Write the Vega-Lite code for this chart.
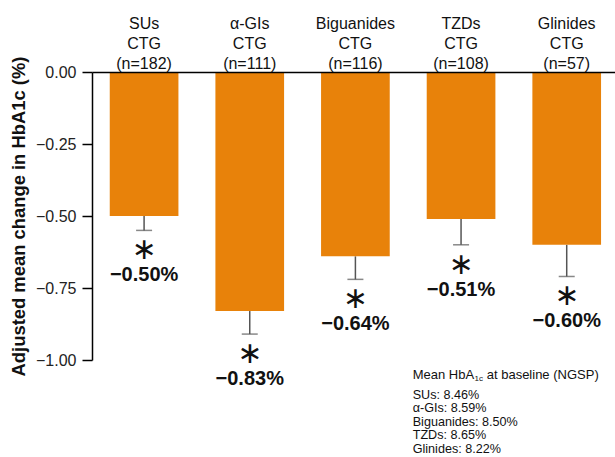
{
  "$schema": "https://vega.github.io/schema/vega-lite/v6.json",
  "width": 523,
  "height": 288,
  "autosize": "none",
  "padding": {"left": 92, "top": 72, "right": 0, "bottom": 97},
  "background": "white",
  "config": {"view": {"stroke": null}, "font": "Liberation Sans"},
  "data": {
    "values": [
      {"drug": "SUs", "arm": "CTG", "n": 182, "change": -0.50, "lower": -0.55},
      {"drug": "α-GIs", "arm": "CTG", "n": 111, "change": -0.83, "lower": -0.91},
      {"drug": "Biguanides", "arm": "CTG", "n": 116, "change": -0.64, "lower": -0.72},
      {"drug": "TZDs", "arm": "CTG", "n": 108, "change": -0.51, "lower": -0.60},
      {"drug": "Glinides", "arm": "CTG", "n": 57, "change": -0.60, "lower": -0.71}
    ]
  },
  "transform": [
    {"calculate": "datum.drug + '|' + datum.arm + '|(n=' + datum.n + ')'", "as": "group"},
    {"calculate": "format(datum.change, '.2f') + '%'", "as": "changeLabel"}
  ],
  "encoding": {
    "x": {
      "field": "group",
      "type": "nominal",
      "sort": null,
      "scale": {"paddingInner": 0.35, "paddingOuter": 0.15, "align": 0.56},
      "axis": {
        "orient": "top",
        "zindex": 1,
        "title": null,
        "ticks": false,
        "labelAngle": 0,
        "labelExpr": "reverse(split(datum.label, '|'))",
        "labelFontSize": 16,
        "labelLineHeight": -20,
        "labelPadding": 1,
        "labelColor": "#111",
        "domainColor": "#000",
        "domainWidth": 1.5
      }
    }
  },
  "layer": [
    {
      "mark": {"type": "rule", "color": "#555", "strokeWidth": 1.5},
      "encoding": {
        "y": {"field": "lower", "type": "quantitative"},
        "y2": {"field": "change"}
      }
    },
    {
      "mark": {"type": "tick", "orient": "horizontal", "size": 16, "thickness": 1.5, "color": "#555"},
      "encoding": {
        "y": {"field": "lower", "type": "quantitative"}
      }
    },
    {
      "mark": {"type": "bar", "color": "#E8820A"},
      "encoding": {
        "y": {
          "field": "change",
          "type": "quantitative",
          "scale": {"domain": [-1, 0], "nice": false},
          "axis": {
            "values": [0, -0.25, -0.5, -0.75, -1],
            "format": ".2f",
            "title": "Adjusted mean change in HbA1c (%)",
            "titleFontSize": 18.4,
            "titleFontWeight": "bold",
            "titleColor": "#111",
            "titlePadding": 7,
            "labelFontSize": 16,
            "labelColor": "#222",
            "labelPadding": 6,
            "tickSize": 10,
            "tickWidth": 1.5,
            "tickColor": "#000",
            "domainColor": "#000",
            "domainWidth": 1.5,
            "grid": false
          }
        }
      }
    },
    {
      "mark": {"type": "text", "text": "∗", "font": "DejaVu Sans", "fontSize": 30, "baseline": "middle", "dy": 20, "color": "#111"},
      "encoding": {
        "y": {"field": "lower", "type": "quantitative"}
      }
    },
    {
      "mark": {"type": "text", "fontSize": 20, "fontWeight": "bold", "baseline": "middle", "dy": 45, "color": "#111"},
      "encoding": {
        "y": {"field": "lower", "type": "quantitative"},
        "text": {"field": "changeLabel"}
      }
    },
    {
      "data": {"values": [{"note": "baseline"}]},
      "layer": [
        {
          "mark": {"type": "text", "text": "Mean HbA", "fontSize": 13, "align": "left", "baseline": "middle", "dx": -14, "dy": 15, "color": "#111"},
          "encoding": {"x": {"datum": "TZDs|CTG|(n=108)", "bandPosition": 0}, "y": {"datum": -1}}
        },
        {
          "mark": {"type": "text", "text": "1c", "fontSize": 8, "align": "left", "baseline": "middle", "dx": 47.8, "dy": 19, "color": "#111"},
          "encoding": {"x": {"datum": "TZDs|CTG|(n=108)", "bandPosition": 0}, "y": {"datum": -1}}
        },
        {
          "mark": {"type": "text", "text": "at baseline (NGSP)", "fontSize": 13, "align": "left", "baseline": "middle", "dx": 60, "dy": 15, "color": "#111"},
          "encoding": {"x": {"datum": "TZDs|CTG|(n=108)", "bandPosition": 0}, "y": {"datum": -1}}
        },
        {
          "mark": {
            "type": "text",
            "text": ["SUs: 8.46%", "α-GIs: 8.59%", "Biguanides: 8.50%", "TZDs: 8.65%", "Glinides: 8.22%"],
            "fontSize": 12.6,
            "lineHeight": 13.4,
            "align": "left",
            "baseline": "top",
            "dx": -14,
            "dy": 29,
            "color": "#111"
          },
          "encoding": {"x": {"datum": "TZDs|CTG|(n=108)", "bandPosition": 0}, "y": {"datum": -1}}
        }
      ]
    }
  ]
}
